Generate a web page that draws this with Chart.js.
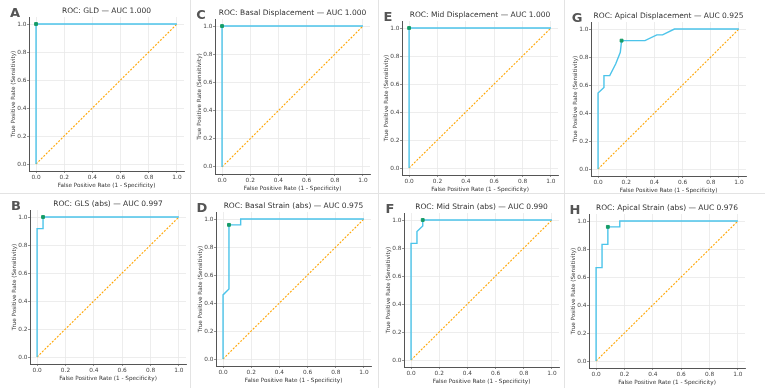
<!DOCTYPE html>
<html>
<head>
<meta charset="utf-8">
<script src="https://cdn.jsdelivr.net/npm/chart.js@4.4.1/dist/chart.umd.min.js"></script>
<style>
  body { margin: 0; background: #fff; }
  #wrap { position: relative; width: 765px; height: 388px; overflow: hidden; background: #fff; }
  canvas { position: absolute; }
  .letter { position: absolute; font: bold 13px "DejaVu Sans", sans-serif; color: #555; transform: translate(-50%, -50%); }
  .sep { position: absolute; background: #e3e3e3; }
</style>
</head>
<body>
<div id="wrap"></div>
<script>
// axis ticks shared by all panels
const axisTicks = [0, 0.2, 0.4, 0.6, 0.8, 1.0];
const diagX = [0, 1];
const diagY = [0, 1];

// ROC curves (fpr / tpr) and the marked cut-off point
const gldFpr = [0, 0, 1];
const gldTpr = [0, 1, 1];
const gldCut = [0, 1];

const glsFpr = [0, 0, 0.042, 0.042, 1];
const glsTpr = [0, 0.917, 0.917, 1, 1];
const glsCut = [0.042, 1];

const basalDispFpr = [0, 0, 1];
const basalDispTpr = [0, 1, 1];
const basalDispCut = [0, 1];

const basalStrainFpr = [0, 0, 0.042, 0.042, 0.125, 0.125, 1];
const basalStrainTpr = [0, 0.458, 0.5, 0.958, 0.958, 1, 1];
const basalStrainCut = [0.042, 0.958];

const midDispFpr = [0, 0, 1];
const midDispTpr = [0, 1, 1];
const midDispCut = [0, 1];

const midStrainFpr = [0, 0, 0.042, 0.042, 0.083, 0.083, 1];
const midStrainTpr = [0, 0.833, 0.833, 0.917, 0.958, 1, 1];
const midStrainCut = [0.083, 1];

const apicalDispFpr = [0, 0, 0.042, 0.042, 0.083, 0.125, 0.158, 0.167, 0.333, 0.417, 0.458, 0.542, 1];
const apicalDispTpr = [0, 0.542, 0.583, 0.667, 0.667, 0.75, 0.833, 0.917, 0.917, 0.958, 0.958, 1, 1];
const apicalDispCut = [0.167, 0.917];

const apicalStrainFpr = [0, 0, 0.042, 0.042, 0.083, 0.083, 0.167, 0.167, 1];
const apicalStrainTpr = [0, 0.667, 0.667, 0.833, 0.833, 0.958, 0.958, 1, 1];
const apicalStrainCut = [0.083, 0.958];

const panelLetters = ["A", "B", "C", "D", "E", "F", "G", "H"];
const panelTitles = [
  "ROC: GLD — AUC 1.000",
  "ROC: GLS (abs) — AUC 0.997",
  "ROC: Basal Displacement — AUC 1.000",
  "ROC: Basal Strain (abs) — AUC 0.975",
  "ROC: Mid Displacement — AUC 1.000",
  "ROC: Mid Strain (abs) — AUC 0.990",
  "ROC: Apical Displacement — AUC 0.925",
  "ROC: Apical Strain (abs) — AUC 0.976"
];
const xTitle = "False Positive Rate (1 - Specificity)";
const yTitle = "True Positive Rate (Sensitivity)";

const curves = [
  [gldFpr, gldTpr, gldCut],
  [glsFpr, glsTpr, glsCut],
  [basalDispFpr, basalDispTpr, basalDispCut],
  [basalStrainFpr, basalStrainTpr, basalStrainCut],
  [midDispFpr, midDispTpr, midDispCut],
  [midStrainFpr, midStrainTpr, midStrainCut],
  [apicalDispFpr, apicalDispTpr, apicalDispCut],
  [apicalStrainFpr, apicalStrainTpr, apicalStrainCut]
];

// axes boxes on the page: left, top, right, bottom
const boxes = [
  [29, 17, 184, 171],
  [30, 210, 186, 364],
  [215, 19, 370, 174],
  [216, 212, 371, 366],
  [402, 21, 558, 175],
  [404, 213, 559, 367],
  [591, 22, 746, 176],
  [589, 214, 745, 368]
];

const wrap = document.getElementById("wrap");

// tile separators
[[190, 0, 1, 388], [378, 0, 1, 388], [564, 0, 1, 388], [0, 193, 765, 1]].forEach(s => {
  const d = document.createElement("div");
  d.className = "sep";
  d.style.left = s[0] + "px"; d.style.top = s[1] + "px";
  d.style.width = s[2] + "px"; d.style.height = s[3] + "px";
  wrap.appendChild(d);
});

const FONT = "'DejaVu Sans', sans-serif";
const TITLE_SIZE = 7.5;
const LEFT_W = 20, RIGHT_PAD = 8, TOP_PAD = 2, TITLE_H = TITLE_SIZE * 1.2 + 1, X_H = 18;

const toPts = (xs, ys) => xs.map((x, i) => ({ x: x, y: ys[i] }));

curves.forEach((c, i) => {
  const [L, T, R, B] = boxes[i];
  const cv = document.createElement("canvas");
  const w = (R - L) + LEFT_W + RIGHT_PAD;
  const h = Math.round(TOP_PAD + TITLE_H + (B - T) + X_H + 1);
  cv.width = w; cv.height = h;
  cv.style.left = (L - LEFT_W) + "px";
  cv.style.top = Math.round(T - TOP_PAD - TITLE_H) + "px";
  wrap.appendChild(cv);

  const lt = document.createElement("div");
  lt.className = "letter";
  lt.textContent = panelLetters[i];
  lt.style.left = (L - 14) + "px";
  lt.style.top = (T - 5) + "px";
  wrap.appendChild(lt);

  const axis = (isX) => ({
    type: "linear",
    min: -0.05,
    max: 1.05,
    afterBuildTicks: s => { s.ticks = axisTicks.map(v => ({ value: v })); },
    afterFit: s => { if (isX) s.height = X_H; else s.width = LEFT_W; },
    grid: { color: "#e9e9e9", lineWidth: 0.8, tickLength: 2, tickColor: "#777" },
    border: { display: true, color: "#555", width: 1 },
    ticks: {
      font: { family: FONT, size: 5.8 },
      color: "#444",
      padding: isX ? 1 : 0.5,
      autoSkip: false,
      maxRotation: 0,
      callback: v => v.toFixed(1)
    },
    title: {
      display: true,
      text: isX ? xTitle : yTitle,
      font: { family: FONT, size: 5.7 },
      color: "#333",
      padding: { top: 1, bottom: 0 }
    }
  });

  new Chart(cv, {
    type: "scatter",
    data: {
      datasets: [
        {
          data: toPts(c[0], c[1]),
          showLine: true,
          borderColor: "#4cc4ea",
          borderWidth: 1.4,
          pointRadius: 0,
          order: 2
        },
        {
          data: toPts(diagX, diagY),
          showLine: true,
          borderColor: "#ffa500",
          borderWidth: 1.1,
          borderDash: [2, 1.5],
          pointRadius: 0,
          order: 3
        },
        {
          data: [{ x: c[2][0], y: c[2][1] }],
          pointRadius: 2,
          pointStyle: "rect",
          backgroundColor: "#169c68",
          borderColor: "#169c68",
          order: 1
        }
      ]
    },
    options: {
      responsive: false,
      animation: false,
      devicePixelRatio: 1,
      layout: { padding: { left: 0, right: RIGHT_PAD, top: TOP_PAD, bottom: 1 } },
      plugins: {
        legend: { display: false },
        tooltip: { enabled: false },
        title: {
          display: true,
          fullSize: false,
          text: panelTitles[i],
          font: { family: FONT, size: TITLE_SIZE, weight: "normal" },
          color: "#333",
          padding: { top: 0, bottom: 1 }
        }
      },
      scales: { x: axis(true), y: axis(false) }
    }
  });
});
</script>
</body>
</html>
